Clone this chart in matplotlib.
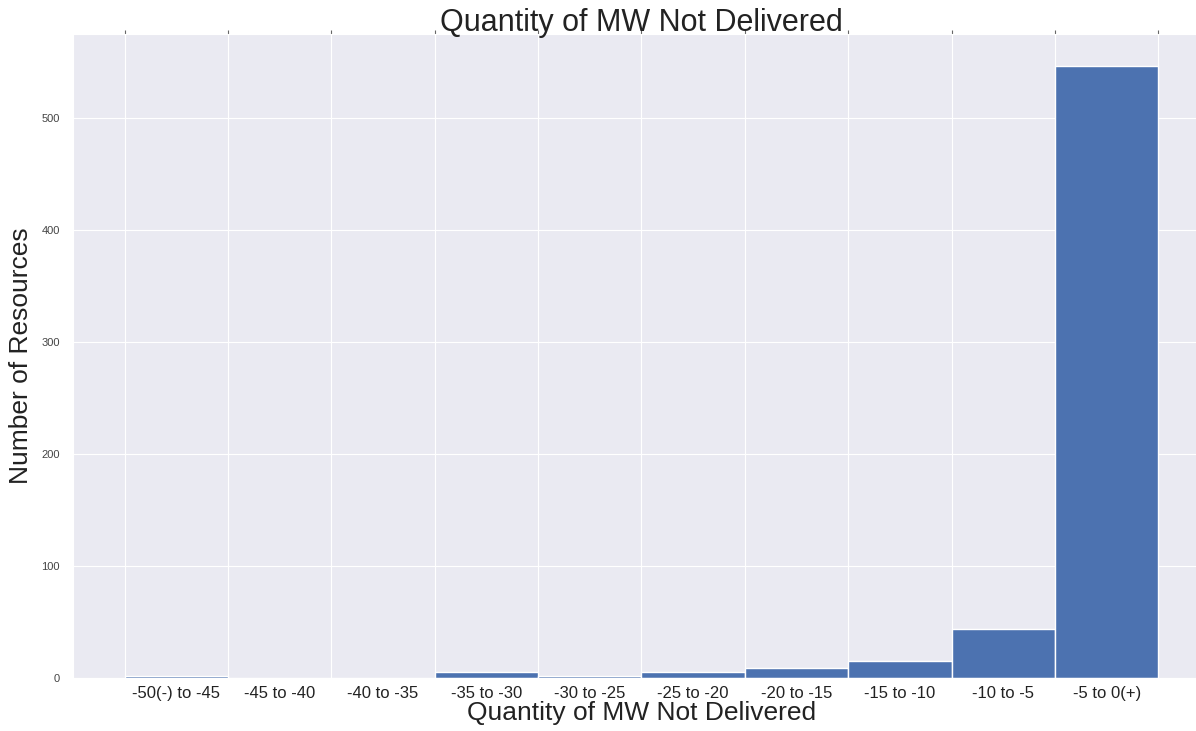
import numpy as np
import matplotlib
matplotlib.use("Agg")
import matplotlib.pyplot as plt
import seaborn as sns

sns.set_style("darkgrid")
plt.rcParams['font.family'] = ['Liberation Sans', 'DejaVu Sans']

# bin edges and counts
edges = [-50, -45, -40, -35, -30, -25, -20, -15, -10, -5, 0]
counts = [2, 0, 0, 5, 2, 5, 9, 15, 44, 546]
labels = ['-50(-) to -45', '-45 to -40', '-40 to -35', '-35 to -30', '-30 to -25',
          '-25 to -20', '-20 to -15', '-15 to -10', '-10 to -5', '-5 to 0(+)']

fig = plt.figure(figsize=(11.96, 7.31), dpi=100)
ax = fig.add_axes([73/1196, 53/731, 1137/1196, 644/731])

widths = np.diff(edges)
ax.bar(edges[:-1], counts, width=widths, align='edge', color='#4c72b0',
       edgecolor='white', linewidth=1)

ax.set_xlim(-52.5, 2.5)
ax.set_ylim(0, 575)

centers = [e + w / 2 for e, w in zip(edges[:-1], widths)]
ax.set_xticks(edges)
ax.set_xticks(centers, minor=True)
ax.set_xticklabels(labels, minor=True, fontsize=12, color='#222222')
ax.tick_params(axis='x', which='major', top=True, bottom=False, labelbottom=False,
               length=3, width=0.8, color='#666666', direction='out')
ax.tick_params(axis='x', which='minor', bottom=False, length=0, pad=6)
ax.grid(False, which='minor')

ax.set_yticks([0, 100, 200, 300, 400, 500])
ax.tick_params(axis='y', labelsize=8, labelcolor='#444444', pad=6)

ax.set_title('Quantity of MW Not Delivered', fontsize=22, pad=2, color='#222222')
ax.set_xlabel('Quantity of MW Not Delivered', fontsize=19, labelpad=0, color='#222222')
ax.set_ylabel('Number of Resources', fontsize=19, labelpad=6, color='#222222')

fig.savefig('out.png', dpi=100)
